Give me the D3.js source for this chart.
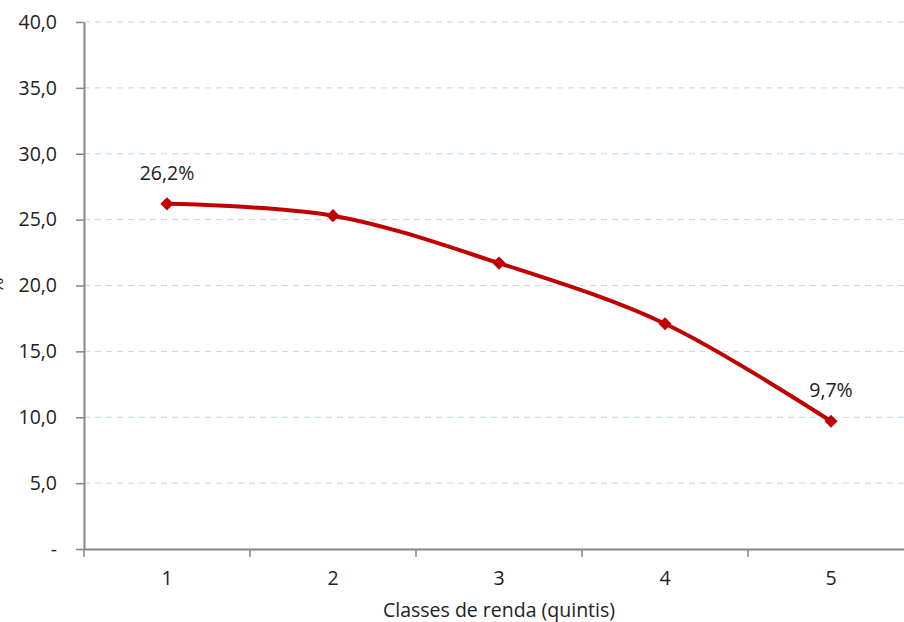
<!DOCTYPE html>
<html><head><meta charset="utf-8">
<script src="https://cdn.jsdelivr.net/npm/d3@7"></script>
<style>body{margin:0;background:#fff}svg{display:block}text{font-family:"Open Sans","Noto Sans",sans-serif}</style>
</head><body>
<svg id="c" width="904" height="622"></svg>
<script>
const categories = ["1","2","3","4","5"];
const values = [26.2, 25.3, 21.7, 17.1, 9.7];
const yTicks = [0,5,10,15,20,25,30,35,40];
const pointLabels = ["26,2%", null, null, null, "9,7%"];
const xTitle = "Classes de renda (quintis)";
const yTitle = "%";

const FS = "19.5px";
const svg = d3.select("#c");
const L = 84, R = 914, T = 22, B = 549;
const x = d3.scaleBand().domain(categories).range([L, R]);
const y = d3.scaleLinear().domain([0, 40]).range([B, T]);
const fmt = v => v === 0 ? "-" : d3.format(".1f")(v).replace(".", ",");

// grid
svg.append("g").selectAll("line").data(yTicks.filter(d => d > 0)).join("line")
  .attr("x1", L).attr("x2", 904).attr("y1", d => y(d)).attr("y2", d => y(d))
  .attr("stroke", "#C3D5F0").attr("stroke-width", 1).attr("stroke-dasharray", "6,5");

// y axis
const ya = svg.append("g").attr("transform", `translate(${L},0)`)
  .call(d3.axisLeft(y).tickValues(yTicks).tickFormat(fmt).tickSize(8).tickSizeOuter(0).tickPadding(19));
ya.select(".domain").attr("stroke", "#868686").attr("stroke-width", 2);
ya.selectAll(".tick line").attr("stroke", "#868686").attr("stroke-width", 1.5);
ya.selectAll("text").attr("fill", "#222").style("font-size", FS);

// x axis
const xa = svg.append("g").attr("transform", `translate(0,${B})`)
  .call(d3.axisBottom(x).tickSize(0).tickPadding(22));
xa.select(".domain").attr("stroke", "#868686").attr("stroke-width", 2);
xa.selectAll("text").attr("fill", "#222").style("font-size", FS);
xa.selectAll("line.bnd").data(categories).join("line").attr("class", "bnd")
  .attr("x1", d => x(d)).attr("x2", d => x(d)).attr("y1", 0).attr("y2", 8)
  .attr("stroke", "#868686").attr("stroke-width", 1.5);

// titles
svg.append("text").attr("x", (L + R) / 2).attr("y", 617).attr("text-anchor", "middle")
  .style("font-size", FS).attr("fill", "#222").text(xTitle);
svg.append("text").attr("transform", `translate(3,${y(20)}) rotate(-90)`).attr("text-anchor", "middle")
  .style("font-size", FS).attr("fill", "#222").text(yTitle);

// line
const cx = d => x(d) + x.bandwidth() / 2;
const data = categories.map((c, i) => ({c, v: values[i], l: pointLabels[i]}));
svg.append("path").datum(data)
  .attr("d", d3.line().x(d => cx(d.c)).y(d => y(d.v)).curve(d3.curveCatmullRom.alpha(0.5)))
  .attr("fill", "none").attr("stroke", "#C00000").attr("stroke-width", 4).attr("stroke-linejoin", "round");
svg.append("g").selectAll("path").data(data).join("path")
  .attr("transform", d => `translate(${cx(d.c)},${y(d.v)})`)
  .attr("d", d3.symbol(d3.symbolDiamond2, 110))
  .attr("fill", "#C00000");
svg.append("g").selectAll("text").data(data.filter(d => d.l)).join("text")
  .attr("x", d => cx(d.c)).attr("y", d => y(d.v) - 24).attr("text-anchor", "middle")
  .style("font-size", FS).attr("fill", "#222").text(d => d.l);
</script>
</body></html>
